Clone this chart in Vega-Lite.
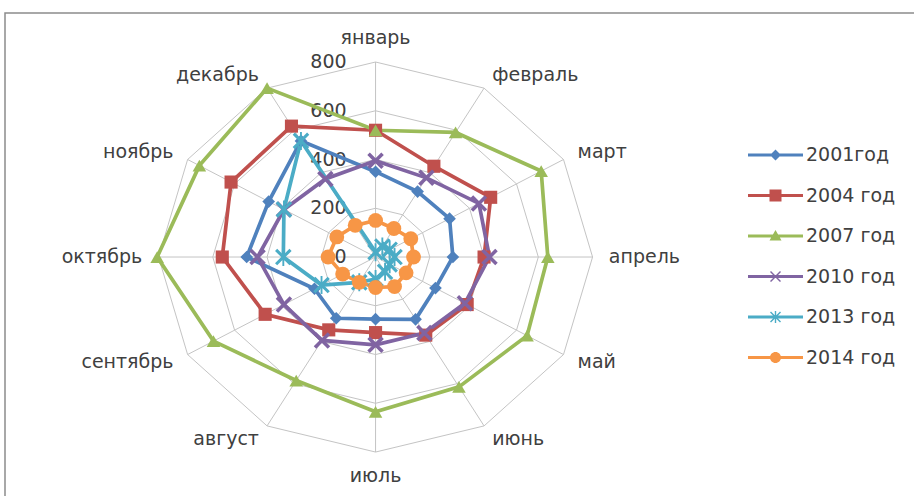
{
  "$schema": "https://vega.github.io/schema/vega-lite/v6.json",
  "width": 915,
  "height": 490,
  "padding": {"left": 5, "top": 13, "right": 0, "bottom": 0},
  "background": "white",
  "config": {"view": {"stroke": "#8c8c8c", "strokeWidth": 1.5}, "font": "DejaVu Sans"},
  "datasets": {
    "months": [
      {"m": "январь", "i": 0}, {"m": "февраль", "i": 1}, {"m": "март", "i": 2},
      {"m": "апрель", "i": 3}, {"m": "май", "i": 4}, {"m": "июнь", "i": 5},
      {"m": "июль", "i": 6}, {"m": "август", "i": 7}, {"m": "сентябрь", "i": 8},
      {"m": "октябрь", "i": 9}, {"m": "ноябрь", "i": 10}, {"m": "декабрь", "i": 11}
    ],
    "rings": [
      {"r": 200, "i": [0,1,2,3,4,5,6,7,8,9,10,11]},
      {"r": 400, "i": [0,1,2,3,4,5,6,7,8,9,10,11]},
      {"r": 600, "i": [0,1,2,3,4,5,6,7,8,9,10,11]},
      {"r": 800, "i": [0,1,2,3,4,5,6,7,8,9,10,11]}
    ],
    "ticks": [{"v": 0}, {"v": 200}, {"v": 400}, {"v": 600}, {"v": 800}],
    "series": [
      {"year": "2001год", "i": 0, "value": 350}, {"year": "2001год", "i": 1, "value": 310},
      {"year": "2001год", "i": 2, "value": 315}, {"year": "2001год", "i": 3, "value": 285},
      {"year": "2001год", "i": 4, "value": 255}, {"year": "2001год", "i": 5, "value": 295},
      {"year": "2001год", "i": 6, "value": 255}, {"year": "2001год", "i": 7, "value": 290},
      {"year": "2001год", "i": 8, "value": 260}, {"year": "2001год", "i": 9, "value": 475},
      {"year": "2001год", "i": 10, "value": 455}, {"year": "2001год", "i": 11, "value": 550},
      {"year": "2004 год", "i": 0, "value": 520}, {"year": "2004 год", "i": 1, "value": 430},
      {"year": "2004 год", "i": 2, "value": 490}, {"year": "2004 год", "i": 3, "value": 400},
      {"year": "2004 год", "i": 4, "value": 390}, {"year": "2004 год", "i": 5, "value": 370},
      {"year": "2004 год", "i": 6, "value": 310}, {"year": "2004 год", "i": 7, "value": 345},
      {"year": "2004 год", "i": 8, "value": 470}, {"year": "2004 год", "i": 9, "value": 565},
      {"year": "2004 год", "i": 10, "value": 615}, {"year": "2004 год", "i": 11, "value": 620},
      {"year": "2007 год", "i": 0, "value": 520}, {"year": "2007 год", "i": 1, "value": 590},
      {"year": "2007 год", "i": 2, "value": 705}, {"year": "2007 год", "i": 3, "value": 635},
      {"year": "2007 год", "i": 4, "value": 645}, {"year": "2007 год", "i": 5, "value": 615},
      {"year": "2007 год", "i": 6, "value": 635}, {"year": "2007 год", "i": 7, "value": 585},
      {"year": "2007 год", "i": 8, "value": 690}, {"year": "2007 год", "i": 9, "value": 805},
      {"year": "2007 год", "i": 10, "value": 750}, {"year": "2007 год", "i": 11, "value": 800},
      {"year": "2010 год", "i": 0, "value": 395}, {"year": "2010 год", "i": 1, "value": 375},
      {"year": "2010 год", "i": 2, "value": 440}, {"year": "2010 год", "i": 3, "value": 420},
      {"year": "2010 год", "i": 4, "value": 380}, {"year": "2010 год", "i": 5, "value": 360},
      {"year": "2010 год", "i": 6, "value": 360}, {"year": "2010 год", "i": 7, "value": 395},
      {"year": "2010 год", "i": 8, "value": 390}, {"year": "2010 год", "i": 9, "value": 435},
      {"year": "2010 год", "i": 10, "value": 390}, {"year": "2010 год", "i": 11, "value": 370},
      {"year": "2013 год", "i": 0, "value": 20}, {"year": "2013 год", "i": 1, "value": 50},
      {"year": "2013 год", "i": 2, "value": 60}, {"year": "2013 год", "i": 3, "value": 70},
      {"year": "2013 год", "i": 4, "value": 60}, {"year": "2013 год", "i": 5, "value": 70},
      {"year": "2013 год", "i": 6, "value": 90}, {"year": "2013 год", "i": 7, "value": 120},
      {"year": "2013 год", "i": 8, "value": 230}, {"year": "2013 год", "i": 9, "value": 340},
      {"year": "2013 год", "i": 10, "value": 390}, {"year": "2013 год", "i": 11, "value": 550},
      {"year": "2014 год", "i": 0, "value": 150}, {"year": "2014 год", "i": 1, "value": 135},
      {"year": "2014 год", "i": 2, "value": 150}, {"year": "2014 год", "i": 3, "value": 140},
      {"year": "2014 год", "i": 4, "value": 130}, {"year": "2014 год", "i": 5, "value": 140},
      {"year": "2014 год", "i": 6, "value": 125}, {"year": "2014 год", "i": 7, "value": 120},
      {"year": "2014 год", "i": 8, "value": 140}, {"year": "2014 год", "i": 9, "value": 175},
      {"year": "2014 год", "i": 10, "value": 165}, {"year": "2014 год", "i": 11, "value": 150}
    ]
  },
  "layer": [
    {
      "data": {"name": "rings"},
      "transform": [
        {"flatten": ["i"]},
        {"calculate": "datum.r*sin(datum.i*PI/6)", "as": "x"},
        {"calculate": "datum.r*cos(datum.i*PI/6)", "as": "y"}
      ],
      "mark": {"type": "line", "interpolate": "linear-closed", "stroke": "#c4c4c4", "strokeWidth": 1},
      "encoding": {
        "x": {"field": "x", "type": "quantitative", "scale": {"domain": [-1366, 2007], "nice": false, "zero": false}, "axis": null},
        "y": {"field": "y", "type": "quantitative", "scale": {"domain": [-1009, 1001], "nice": false, "zero": false}, "axis": null},
        "detail": {"field": "r", "type": "nominal"},
        "order": {"field": "i", "type": "quantitative"}
      }
    },
    {
      "data": {"name": "months"},
      "transform": [
        {"calculate": "800*sin(datum.i*PI/6)", "as": "x"},
        {"calculate": "800*cos(datum.i*PI/6)", "as": "y"}
      ],
      "mark": {"type": "rule", "stroke": "#c4c4c4", "strokeWidth": 1},
      "encoding": {
        "x": {"field": "x", "type": "quantitative", "axis": null},
        "y": {"field": "y", "type": "quantitative", "axis": null},
        "x2": {"datum": 0},
        "y2": {"datum": 0}
      }
    },
    {
      "data": {"name": "months"},
      "transform": [
        {"filter": "datum.i == 0 || datum.i == 6"},
        {"calculate": "900*sin(datum.i*PI/6)", "as": "x"},
        {"calculate": "900*cos(datum.i*PI/6)", "as": "y"}
      ],
      "mark": {"type": "text", "align": "center", "baseline": "middle", "fontSize": 19, "font": "DejaVu Sans", "color": "#404040"},
      "encoding": {
        "x": {"field": "x", "type": "quantitative", "axis": null},
        "y": {"field": "y", "type": "quantitative", "axis": null},
        "text": {"field": "m"}
      }
    },
    {
      "data": {"name": "months"},
      "transform": [
        {"filter": "datum.i >= 1 && datum.i <= 5"},
        {"calculate": "860*sin(datum.i*PI/6)", "as": "x"},
        {"calculate": "860*cos(datum.i*PI/6)", "as": "y"}
      ],
      "mark": {"type": "text", "align": "left", "baseline": "middle", "fontSize": 19, "font": "DejaVu Sans", "color": "#404040"},
      "encoding": {
        "x": {"field": "x", "type": "quantitative", "axis": null},
        "y": {"field": "y", "type": "quantitative", "axis": null},
        "text": {"field": "m"}
      }
    },
    {
      "data": {"name": "months"},
      "transform": [
        {"filter": "datum.i >= 7"},
        {"calculate": "860*sin(datum.i*PI/6)", "as": "x"},
        {"calculate": "860*cos(datum.i*PI/6)", "as": "y"}
      ],
      "mark": {"type": "text", "align": "right", "baseline": "middle", "fontSize": 19, "font": "DejaVu Sans", "color": "#404040"},
      "encoding": {
        "x": {"field": "x", "type": "quantitative", "axis": null},
        "y": {"field": "y", "type": "quantitative", "axis": null},
        "text": {"field": "m"}
      }
    },
    {
      "data": {"name": "ticks"},
      "mark": {"type": "text", "align": "right", "baseline": "middle", "dx": -29, "fontSize": 19, "font": "DejaVu Sans", "color": "#404040"},
      "encoding": {
        "x": {"datum": 0, "type": "quantitative", "axis": null},
        "y": {"field": "v", "type": "quantitative", "axis": null},
        "text": {"field": "v"}
      }
    },
    {
      "data": {"name": "series"},
      "transform": [
        {"calculate": "datum.value*sin(datum.i*PI/6)", "as": "x"},
        {"calculate": "datum.value*cos(datum.i*PI/6)", "as": "y"}
      ],
      "mark": {"type": "line", "interpolate": "linear-closed", "strokeWidth": 3.7},
      "encoding": {
        "x": {"field": "x", "type": "quantitative", "axis": null},
        "y": {"field": "y", "type": "quantitative", "axis": null},
        "order": {"field": "i", "type": "quantitative"},
        "color": {
          "field": "year", "type": "nominal", "legend": null,
          "scale": {"domain": ["2001год", "2004 год", "2007 год", "2010 год", "2013 год", "2014 год"],
                    "range": ["#4F81BD", "#C0504D", "#9BBB59", "#8064A2", "#4BACC6", "#F79646"]}
        }
      }
    },
    {
      "data": {"name": "series"},
      "transform": [
        {"calculate": "datum.value*sin(datum.i*PI/6)", "as": "x"},
        {"calculate": "datum.value*cos(datum.i*PI/6)", "as": "y"}
      ],
      "mark": {"type": "point", "filled": true, "opacity": 1, "strokeWidth": 0},
      "encoding": {
        "x": {"field": "x", "type": "quantitative", "axis": null},
        "y": {"field": "y", "type": "quantitative", "axis": null},
        "color": {
          "field": "year", "type": "nominal", "legend": null,
          "scale": {"domain": ["2001год", "2004 год", "2007 год", "2010 год", "2013 год", "2014 год"],
                    "range": ["#4F81BD", "#C0504D", "#9BBB59", "#8064A2", "#4BACC6", "#F79646"]}
        },
        "shape": {
          "field": "year", "type": "nominal", "legend": null,
          "scale": {"domain": ["2001год", "2004 год", "2007 год", "2010 год", "2013 год", "2014 год"],
                    "range": ["diamond", "square", "triangle-up",
                              "M-0.82,-1.18L1.18,0.82L0.82,1.18L-1.18,-0.82Z M0.82,-1.18L1.18,-0.82L-0.82,1.18L-1.18,0.82Z",
                              "M-0.85,-1.15L1.15,0.85L0.85,1.15L-1.15,-0.85Z M0.85,-1.15L1.15,-0.85L-0.85,1.15L-1.15,0.85Z M-0.13,-1.25H0.13V1.25H-0.13Z",
                              "circle"]}
        },
        "size": {
          "field": "year", "type": "nominal", "legend": null,
          "scale": {"domain": ["2001год", "2004 год", "2007 год", "2010 год", "2013 год", "2014 год"],
                    "range": [160, 220, 230, 150, 150, 240]}
        }
      }
    },
    {
      "data": {"name": "series"},
      "transform": [
        {"calculate": "datum.value*sin(datum.i*PI/6)", "as": "x"},
        {"calculate": "datum.value*cos(datum.i*PI/6)", "as": "y"}
      ],
      "mark": {"type": "point", "filled": true, "opacity": 0},
      "encoding": {
        "x": {"field": "x", "type": "quantitative", "axis": null},
        "y": {"field": "y", "type": "quantitative", "axis": null},
        "color": {
          "field": "year", "type": "nominal",
          "scale": {"domain": ["2001год", "2004 год", "2007 год", "2010 год", "2013 год", "2014 год"],
                    "range": ["#4F81BD", "#C0504D", "#9BBB59", "#8064A2", "#4BACC6", "#F79646"]},
          "legend": {"title": null, "orient": "none", "legendX": 760.5, "legendY": 132, "padding": 0,
                     "symbolSize": 400, "symbolOpacity": 1, "symbolStrokeWidth": 0, "rowPadding": 20.5,
                     "labelOffset": 20.5, "labelFontSize": 19, "labelFont": "DejaVu Sans", "labelColor": "#404040",
                     "labelLimit": 200}
        },
        "shape": {
          "field": "year", "type": "nominal",
          "scale": {"domain": ["2001год", "2004 год", "2007 год", "2010 год", "2013 год", "2014 год"],
                    "range": [
                      "M-2.75,-0.15H2.75V0.15H-2.75Z M0,-0.55L0.55,0L0,0.55L-0.55,0Z",
                      "M-2.75,-0.15H2.75V0.15H-2.75Z M-0.6,-0.6H0.6V0.6H-0.6Z",
                      "M-2.75,-0.15H2.75V0.15H-2.75Z M0,-0.6L0.6,0.45H-0.6Z",
                      "M-2.75,-0.15H2.75V0.15H-2.75Z M-0.45,-0.55L0.55,0.45L0.45,0.55L-0.55,-0.45Z M0.45,-0.55L0.55,-0.45L-0.45,0.55L-0.55,0.45Z",
                      "M-2.75,-0.15H2.75V0.15H-2.75Z M-0.45,-0.55L0.55,0.45L0.45,0.55L-0.55,-0.45Z M0.45,-0.55L0.55,-0.45L-0.45,0.55L-0.55,0.45Z M-0.07,-0.6H0.07V0.6H-0.07Z",
                      "M-2.75,-0.15H2.75V0.15H-2.75Z M-0.55,0A0.55,0.55 0 1,1 0.55,0A0.55,0.55 0 1,1 -0.55,0Z"
                    ]},
          "legend": {"title": null, "orient": "none", "legendX": 760.5, "legendY": 132, "padding": 0,
                     "symbolSize": 400, "symbolOpacity": 1, "symbolStrokeWidth": 0, "rowPadding": 20.5,
                     "labelOffset": 20.5, "labelFontSize": 19, "labelFont": "DejaVu Sans", "labelColor": "#404040",
                     "labelLimit": 200}
        }
      }
    }
  ],
  "resolve": {"scale": {"color": "independent", "shape": "independent", "size": "independent"}}
}
